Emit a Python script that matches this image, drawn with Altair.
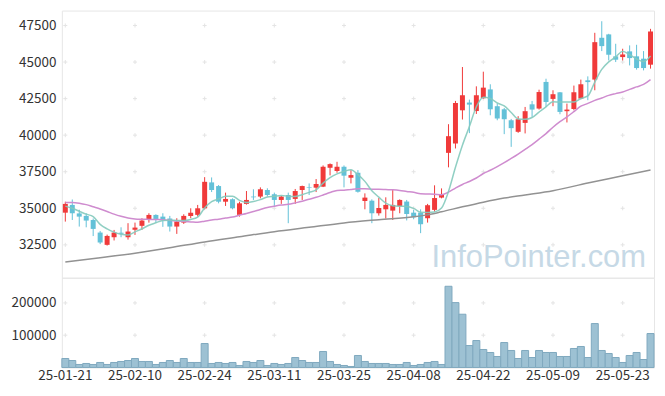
import altair as alt
import pandas as pd

dates = [
    "25-01-21", "25-01-22", "25-01-23", "25-01-24", "25-01-31",
    "25-02-03", "25-02-04", "25-02-05", "25-02-06", "25-02-07",
    "25-02-10", "25-02-11", "25-02-12", "25-02-13", "25-02-14",
    "25-02-17", "25-02-18", "25-02-19", "25-02-20", "25-02-21",
    "25-02-24", "25-02-25", "25-02-26", "25-02-27", "25-02-28",
    "25-03-04", "25-03-05", "25-03-06", "25-03-07", "25-03-10",
    "25-03-11", "25-03-12", "25-03-13", "25-03-14", "25-03-17",
    "25-03-18", "25-03-19", "25-03-20", "25-03-21", "25-03-24",
    "25-03-25", "25-03-26", "25-03-27", "25-03-28", "25-03-31",
    "25-04-01", "25-04-02", "25-04-03", "25-04-04", "25-04-07",
    "25-04-08", "25-04-09", "25-04-10", "25-04-11", "25-04-14",
    "25-04-15", "25-04-16", "25-04-17", "25-04-18", "25-04-21",
    "25-04-22", "25-04-23", "25-04-24", "25-04-25", "25-04-28",
    "25-04-29", "25-04-30", "25-05-02", "25-05-07", "25-05-08",
    "25-05-09", "25-05-12", "25-05-13", "25-05-14", "25-05-15",
    "25-05-16", "25-05-19", "25-05-20", "25-05-21", "25-05-22",
    "25-05-23", "25-05-26", "25-05-27", "25-05-28", "25-05-29",
]

opens = [34700, 35230, 34650, 34480, 34200, 33340, 32500, 33020, 33330, 33020,
         33530, 33800, 34200, 34545, 34430, 34300, 33750, 34020, 34480, 34550,
         35000, 36770, 36520, 35450, 35620, 34550, 35300, 35800, 35800, 36250,
         35960, 35570, 35910, 35640, 36250, 36430, 36410, 36480, 37770, 37550,
         37840, 37090, 37430, 35500, 35520, 34660, 34930, 34840, 35160, 35460,
         34700, 34700, 34320, 34890, 35730, 38790, 39430, 41700, 42230, 41650,
         42530, 43130, 41980, 41770, 41020, 40230, 40840, 42110, 41820, 43640,
         42480, 42930, 41640, 41790, 42500, 43750, 43800, 46660, 46890, 45390,
         45340, 45730, 45390, 45230, 44820]
highs = [35450, 35600, 34900, 34660, 34300, 33450, 33200, 33520, 33700, 33980,
         34020, 34320, 34660, 34590, 34660, 34480, 34320, 34590, 35000, 35230,
         37130, 37110, 36590, 36070, 35680, 35450, 36180, 36300, 36430, 36370,
         36070, 35840, 36070, 36320, 36550, 36700, 37000, 37930, 38070, 38180,
         37930, 37610, 37610, 36020, 35610, 35700, 35750, 36300, 35610, 35570,
         34890, 34930, 35300, 36570, 36360, 40750, 42340, 44660, 42430, 43340,
         44340, 43480, 42160, 41860, 41110, 41300, 41930, 42340, 43110, 43860,
         43070, 42950, 42160, 43390, 43800, 44020, 47000, 47790, 46930, 46250,
         45910, 46140, 46180, 45750, 47270]
lows = [34090, 34200, 33750, 33700, 33100, 32550, 32450, 32800, 33020, 32860,
        33180, 33520, 34020, 34020, 33730, 33410, 33250, 33930, 34320, 34430,
        34930, 36110, 35340, 35160, 34930, 34430, 35250, 35570, 35680, 35800,
        35160, 35300, 33980, 35300, 35570, 35910, 36110, 36450, 37250, 37430,
        36430, 36700, 36070, 34930, 33980, 34500, 34300, 34200, 34660, 34170,
        34250, 33300, 34020, 34770, 35680, 37800, 39090, 41070, 40140, 41450,
        42500, 41360, 41020, 40070, 39200, 40160, 40120, 41250, 41750, 41930,
        41980, 41430, 40870, 41700, 42450, 42390, 43070, 45750, 45110, 45000,
        45110, 44770, 44480, 44430, 44550]
closes = [35300, 34660, 34430, 34160, 33590, 32660, 33110, 33340, 33260, 33410,
          33680, 34160, 34545, 34270, 34200, 33750, 34090, 34480, 34700, 35000,
          36810, 36250, 35450, 35640, 35000, 35340, 35570, 35750, 36300, 35910,
          35570, 35800, 35570, 36180, 36520, 36390, 36660, 37840, 38020, 37840,
          37230, 37270, 36130, 35730, 34660, 35020, 35230, 35230, 35570, 34610,
          34390, 33910, 35210, 35700, 35980, 39930, 42200, 42730, 42090, 42730,
          43250, 41770, 41140, 41090, 40480, 41090, 41640, 41750, 42950, 42270,
          42800, 41590, 41750, 42930, 43480, 43630, 46360, 46090, 45500, 45160,
          45520, 45270, 44590, 44590, 47090]
volumes = [27800, 21600, 9300, 12400, 9300, 15500, 9300, 15500, 18600, 21600,
           27800, 18600, 18600, 9300, 15500, 21600, 15500, 27800, 15500, 15500,
           74200, 12400, 15500, 12400, 15500, 6200, 18600, 15500, 21600, 6200,
           12400, 9300, 12400, 30900, 21600, 15500, 15500, 49500, 18600, 9300,
           6200, 3100, 37100, 18600, 12400, 12400, 12400, 9300, 9300, 15500,
           6200, 9300, 15500, 18600, 9300, 251600, 201000, 165000, 68000, 83500,
           55700, 46400, 34000, 77300, 52600, 27800, 52600, 30900, 52600, 46400,
           46400, 34000, 34000, 58800, 65000, 30900, 136100, 52600, 43300, 30900,
           15500, 37100, 46400, 24700, 105200]
ma5 = [35150, 35000, 34800, 34600, 34430, 33900, 33590, 33370, 33220, 33180,
       33390, 33600, 33840, 34010, 34170, 34190, 34170, 34160, 34240, 34400,
       35020, 35450, 35640, 35830, 35830, 35540, 35400, 35460, 35590, 35770,
       35820, 35870, 35830, 35810, 35930, 36090, 36260, 36720, 37090, 37350,
       37520, 37640, 37300, 36840, 36200, 35760, 35350, 35170, 35140, 35130,
       34990, 34730, 34720, 34750, 35020, 36150, 37800, 39310, 40590, 41940,
       42600, 42510, 42200, 42000, 41550, 41110, 41090, 41210, 41580, 41940,
       42280, 42270, 42270, 42270, 42510, 42680, 43630, 44500, 45010, 45350,
       45730, 45510, 45210, 45030, 45410]
ma20 = [35400, 35400, 35350, 35250, 35100, 34950, 34780, 34600, 34450, 34330,
        34270, 34250, 34240, 34230, 34220, 34180, 34130, 34090, 34070, 34050,
        34120, 34200, 34250, 34330, 34400, 34530, 34650, 34780, 34920, 35050,
        35140, 35220, 35270, 35370, 35480, 35620, 35750, 35910, 36080, 36220,
        36240, 36290, 36330, 36330, 36310, 36300, 36280, 36260, 36220, 36150,
        36090, 36000, 35980, 35960, 35930, 36110, 36380, 36630, 36830, 37070,
        37380, 37600, 37850, 38120, 38410, 38710, 39030, 39360, 39730, 40110,
        40540, 40920, 41250, 41610, 41980, 42170, 42380, 42540, 42720, 42840,
        42950, 43130, 43300, 43470, 43800]
ma_long_dates = ["25-01-21", "25-02-03", "25-02-10", "25-02-17", "25-02-24",
                 "25-03-04", "25-03-11", "25-03-18", "25-03-25", "25-04-01",
                 "25-04-08", "25-04-10", "25-04-14", "25-04-17", "25-04-22",
                 "25-04-25", "25-04-30", "25-05-09", "25-05-16", "25-05-23",
                 "25-05-29"]
ma_long = [31320, 31620, 31930, 32300, 32700, 33050, 33400, 33700, 34000, 34220,
           34420, 34550, 34760, 35100, 35420, 35700, 35910, 36200, 36730, 37220,
           37620]

x_ticks = ["25-01-21", "25-02-10", "25-02-24", "25-03-11", "25-03-25",
           "25-04-08", "25-04-22", "25-05-09", "25-05-23"]
price_ticks = [32500, 35000, 37500, 40000, 42500, 45000, 47500]
vol_ticks = [100000, 200000]

RED = "#f03a3a"
BLUE = "#63c1d8"
FONT = "Noto Sans CJK KR"

df = pd.DataFrame({
    "date": dates, "open": opens, "high": highs, "low": lows, "close": closes,
    "volume": volumes, "ma5": ma5, "ma20": ma20,
})
df["dir"] = ["up" if c >= o else "down" for o, c in zip(opens, closes)]
grey_df = pd.DataFrame({"date": ma_long_dates, "ma": ma_long})
cross_top = pd.DataFrame([(d, v) for d in x_ticks for v in price_ticks], columns=["date", "v"])
cross_bot = pd.DataFrame([(d, v) for d in x_ticks for v in vol_ticks], columns=["date", "v"])
wm_df = pd.DataFrame({"t": ["InfoPointer.com"]})

xscale = alt.Scale(domain=dates, paddingInner=0, paddingOuter=0)
x_top = alt.X("date:O", scale=xscale, axis=None)
yscale = alt.Scale(domain=[30250, 48520], zero=False, nice=False)
yaxis = alt.Axis(values=price_ticks, format="d", title=None, domain=False, ticks=False,
                 grid=False, labelPadding=6)
color = alt.Color("dir:N", scale=alt.Scale(domain=["up", "down"], range=[RED, BLUE]), legend=None)

cross_shape = "M-1,0L1,0M0,-1L0,1"

top_cross = alt.Chart(cross_top).mark_point(shape=cross_shape, size=16, filled=False,
                                            stroke="#d9d9d9", strokeWidth=1).encode(
    x=x_top, y=alt.Y("v:Q", scale=yscale, axis=yaxis))
wick = alt.Chart(df).mark_rule(strokeWidth=1).encode(
    x=x_top, y=alt.Y("low:Q", scale=yscale, axis=yaxis), y2="high:Q", color=color)
body = alt.Chart(df).mark_bar(size=5).encode(
    x=x_top, y=alt.Y("open:Q", scale=yscale, axis=yaxis), y2="close:Q", color=color)
line20 = alt.Chart(df).mark_line(color="#cf8ccf", strokeWidth=1.5, interpolate="monotone").encode(
    x=x_top, y=alt.Y("ma20:Q", scale=yscale, axis=yaxis))
line_long = alt.Chart(grey_df).mark_line(color="#929292", strokeWidth=1.5, interpolate="monotone").encode(
    x=x_top, y=alt.Y("ma:Q", scale=yscale, axis=yaxis))
line5 = alt.Chart(df).mark_line(color="#84cabd", strokeWidth=1.5, opacity=0.9, interpolate="monotone").encode(
    x=x_top, y=alt.Y("ma5:Q", scale=yscale, axis=yaxis))
watermark = alt.Chart(wm_df).mark_text(align="right", baseline="alphabetic", fontSize=31,
                                       font="Liberation Sans", color="#c6d9e6").encode(
    x=alt.value(586), y=alt.value(257), text="t:N")

top = alt.layer(top_cross, wick, body, line20, line_long, line5, watermark).properties(
    width=594, height=268)

x_bot = alt.X("date:O", scale=xscale,
              axis=alt.Axis(values=x_ticks, labelAngle=0, title=None, domain=False, ticks=False,
                            grid=False, labelPadding=1, labelFontSize=13.5))
vscale = alt.Scale(domain=[0, 278000], nice=False)
vaxis = alt.Axis(values=vol_ticks, format="d", title=None, domain=False, ticks=False,
                 grid=False, labelPadding=6)
bot_cross = alt.Chart(cross_bot).mark_point(shape=cross_shape, size=16, filled=False,
                                            stroke="#d9d9d9", strokeWidth=1).encode(
    x=x_bot, y=alt.Y("v:Q", scale=vscale, axis=vaxis))
vol = alt.Chart(df).mark_bar(fill="#9dc1d3", stroke="#7fa9bf", strokeWidth=1).encode(
    x=x_bot, y=alt.Y("volume:Q", scale=vscale, axis=vaxis))
bottom = alt.layer(bot_cross, vol).properties(width=594, height=90)

chart = alt.vconcat(top, bottom, spacing=0, bounds="flush").properties(
    padding={"left": 2, "top": 1, "right": 2, "bottom": 2},
    background="white",
).configure_view(stroke="#e6e6e6").configure_axis(
    labelFont=FONT, labelFontSize=13.5, labelColor="#333333"
)

chart.save("out.html", embed_options={"renderer": "svg", "actions": False})
